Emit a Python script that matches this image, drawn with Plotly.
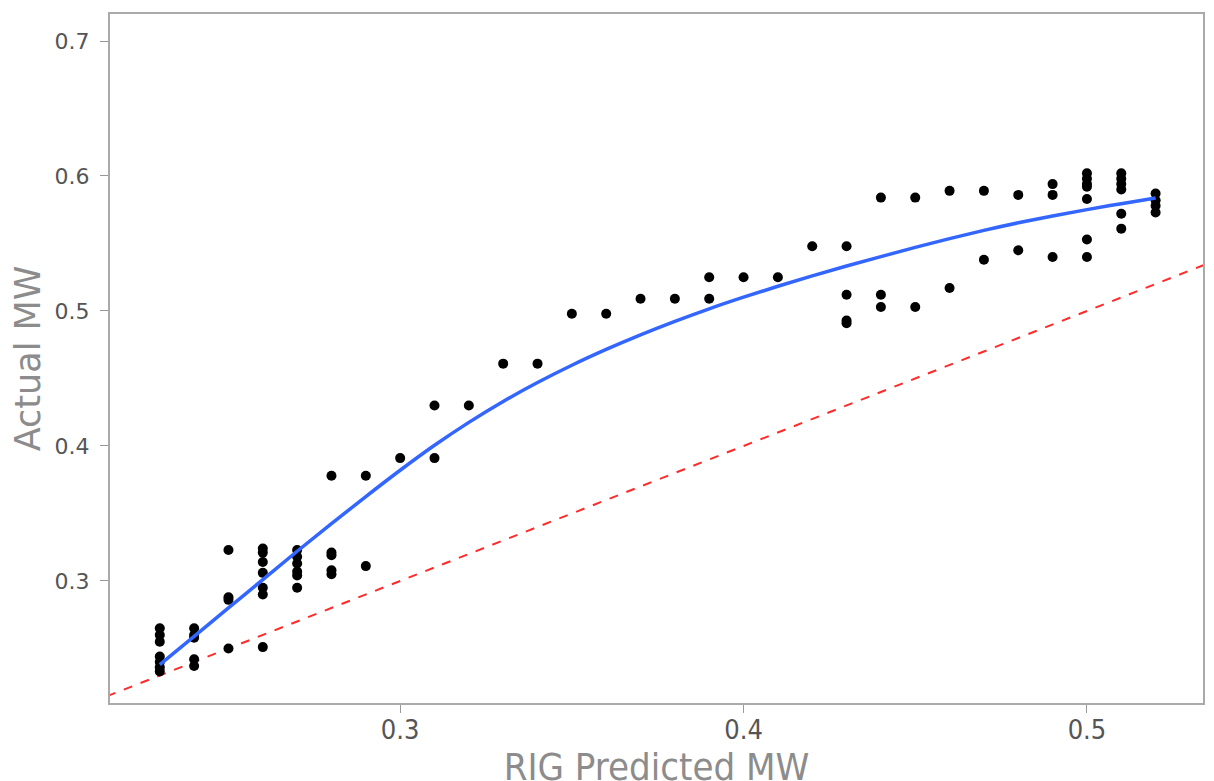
import plotly.graph_objects as go

# RIG predicted vs actual molecular weight
pred_mw = (
    [0.23] * 7 + [0.24] * 5 + [0.25] * 4 + [0.26] * 7 + [0.27] * 6 + [0.28] * 5 +
    [0.29] * 2 + [0.30] + [0.31] * 2 + [0.32] + [0.33] + [0.34] + [0.35] + [0.36] +
    [0.37] + [0.38] + [0.39] * 2 + [0.40] + [0.41] + [0.42] + [0.43] * 4 +
    [0.44] * 3 + [0.45] * 2 + [0.46] * 2 + [0.47] * 2 + [0.48] * 2 + [0.49] * 3 +
    [0.50] * 7 + [0.51] * 6 + [0.52] * 4
)
actual_mw = [
    0.265, 0.260, 0.255, 0.244, 0.240, 0.236, 0.233,
    0.265, 0.260, 0.258, 0.242, 0.237,
    0.323, 0.288, 0.286, 0.250,
    0.324, 0.321, 0.314, 0.306, 0.295, 0.290, 0.251,
    0.323, 0.318, 0.313, 0.307, 0.304, 0.295,
    0.378, 0.321, 0.319, 0.308, 0.305,
    0.378, 0.311,
    0.391,
    0.430, 0.391,
    0.430,
    0.461,
    0.461,
    0.498,
    0.498,
    0.509,
    0.509,
    0.525, 0.509,
    0.525,
    0.525,
    0.548,
    0.548, 0.512, 0.493, 0.491,
    0.584, 0.512, 0.503,
    0.584, 0.503,
    0.589, 0.517,
    0.589, 0.538,
    0.586, 0.545,
    0.594, 0.586, 0.540,
    0.602, 0.598, 0.594, 0.592, 0.583, 0.553, 0.540,
    0.602, 0.598, 0.594, 0.590, 0.572, 0.561,
    0.587, 0.582, 0.578, 0.573,
]

# smoothed fit
fit_x = [0.23, 0.24, 0.25, 0.26, 0.27, 0.28, 0.29, 0.30, 0.31, 0.32, 0.33, 0.34, 0.35,
         0.36, 0.37, 0.38, 0.39, 0.40, 0.41, 0.42, 0.43, 0.44, 0.45, 0.46, 0.47, 0.48,
         0.49, 0.50, 0.51, 0.52]
fit_y = [0.238, 0.259, 0.280, 0.301, 0.322, 0.3425, 0.3625, 0.382, 0.4005, 0.4175,
         0.433, 0.447, 0.4598, 0.4715, 0.4823, 0.4923, 0.5016, 0.5102, 0.5183, 0.526,
         0.5333, 0.5403, 0.5471, 0.5536, 0.5597, 0.5653, 0.5704, 0.5751, 0.5795, 0.5837]

# identity reference line
ref_x = [0.20, 0.55]
ref_y = [0.20, 0.55]

x_ticks = [0.3, 0.4, 0.5]
y_ticks = [0.3, 0.4, 0.5, 0.6, 0.7]

fig = go.Figure()
fig.add_trace(go.Scatter(
    x=ref_x, y=ref_y, mode="lines",
    line=dict(color="#ff2a2a", width=2, dash="dash"),
    showlegend=False, hoverinfo="skip",
))
fig.add_trace(go.Scatter(
    x=pred_mw, y=actual_mw, mode="markers",
    marker=dict(color="black", size=10),
    showlegend=False,
))
fig.add_trace(go.Scatter(
    x=fit_x, y=fit_y, mode="lines",
    line=dict(color="#3366ff", width=3.5, shape="spline", smoothing=1.0),
    showlegend=False,
))

axis_common = dict(
    showgrid=False, zeroline=False,
    showline=True, linecolor="#aaaaaa", linewidth=2, mirror=True,
    ticks="outside", ticklen=8, tickwidth=1, tickcolor="#999999",
)

fig.update_layout(
    width=1198, height=781,
    margin=dict(l=102, r=3, t=6, b=86),
    paper_bgcolor="white", plot_bgcolor="white",
    font=dict(family="DejaVu Sans", color="#555555"),
    xaxis=dict(
        **axis_common,
        range=[0.2155, 0.5338],
        tickvals=x_ticks, ticktext=["0.3", "0.4", "0.5"],
        tickfont=dict(family="DejaVu Sans Condensed", size=27, color="#555555"),
        ticklabelstandoff=-6,
        title=dict(text="RIG Predicted MW", standoff=12,
                   font=dict(family="DejaVu Sans Condensed", size=38, color="#8c8c8c")),
        automargin=False,
    ),
    yaxis=dict(
        **axis_common,
        range=[0.2096, 0.72],
        tickvals=y_ticks, ticktext=["0.3", "0.4", "0.5", "0.6", "0.7"],
        tickfont=dict(family="DejaVu Sans", size=22, color="#555555"),
        ticklabelstandoff=6,
        title=dict(text="Actual MW", standoff=6,
                   font=dict(family="DejaVu Sans", size=35, color="#8c8c8c")),
        automargin=False,
    ),
)

fig.write_html("out.html")
